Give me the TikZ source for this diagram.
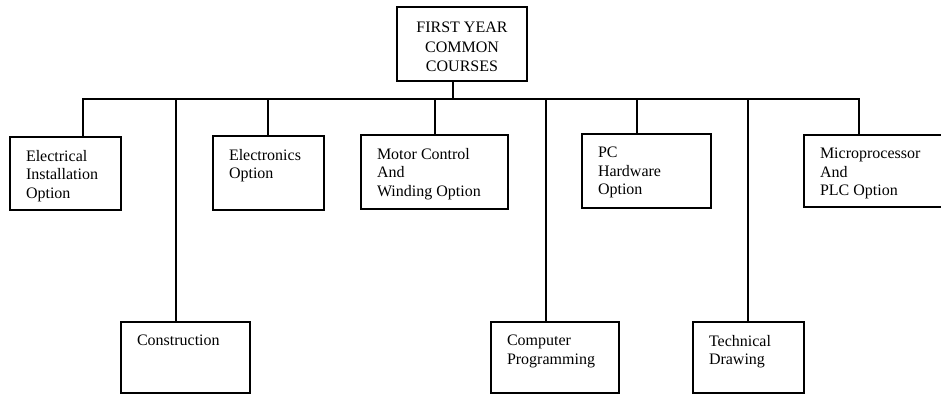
\documentclass[tikz,border=0pt]{standalone}
\usepackage{fontspec}
\setmainfont{Liberation Serif}
\begin{document}
\begin{tikzpicture}[x=1pt,y=-1pt,
  line width=1.6pt,
  boxn/.style={draw, line width=1.6pt, anchor=north west, inner xsep=16pt, inner ysep=13pt, outer sep=0pt,
    font=\fontsize{16}{18.5}\selectfont},
  topn/.style={draw, line width=1.6pt, anchor=north west, inner xsep=0pt, inner ysep=15pt, outer sep=0pt,
    font=\fontsize{16}{19.5}\selectfont},
  conn/.style={line width=1.6pt}]
\clip (0,0) rectangle (941,394);
\useasboundingbox (0,0) rectangle (941,394);
% top
\node[topn] (top) at (397,7) {\parbox[c][44pt][t]{130pt}{\centering FIRST YEAR\\COMMON\\COURSES\par\vspace*{-10pt}}};
% boxes: parbox width = W-32, height = H-26
\node[boxn] (elec) at (10,137) {\parbox[c][47pt][t]{79pt}{Electrical\\Installation\\Option}};
\node[boxn] (elecn) at (213,136) {\parbox[c][48pt][t]{79pt}{Electronics\\Option}};
\node[boxn] (motor) at (361,135) {\parbox[c][48pt][t]{115pt}{Motor Control\\And\\Winding Option}};
\node[boxn] (pc) at (582,134) {\parbox[c][48pt][t]{97pt}{PC\\Hardware\\Option}};
\node[boxn] (micro) at (804,135) {\parbox[c][46pt][t]{113pt}{Microprocessor\\And\\PLC Option}};
\node[boxn] (constr) at (121,322) {\parbox[c][45pt][t]{97pt}{Construction}};
\node[boxn] (comp) at (491,322) {\parbox[c][45pt][t]{96pt}{Computer\\Programming}};
\node[boxn] (tech) at (693,322) {\parbox[c][45pt][t]{79pt}{Technical\\Drawing}};
% bus taps
\coordinate (tTop) at (453,99);
\coordinate (tElec) at (83,99);
\coordinate (tConstr) at (176,99);
\coordinate (tElecn) at (268,99);
\coordinate (tMotor) at (435,99);
\coordinate (tComp) at (546,99);
\coordinate (tPc) at (637,99);
\coordinate (tTech) at (748,99);
\coordinate (tMicro) at (859,99);
% connectors
\draw[conn] (tTop |- top.south) -- (tTop);
\draw[conn] (tElec |- elec.north) -- (tElec) -- (tMicro) -- (tMicro |- micro.north);
\draw[conn] (tConstr) -- (tConstr |- constr.north);
\draw[conn] (tElecn) -- (tElecn |- elecn.north);
\draw[conn] (tMotor) -- (tMotor |- motor.north);
\draw[conn] (tComp) -- (tComp |- comp.north);
\draw[conn] (tPc) -- (tPc |- pc.north);
\draw[conn] (tTech) -- (tTech |- tech.north);
\end{tikzpicture}
\end{document}
